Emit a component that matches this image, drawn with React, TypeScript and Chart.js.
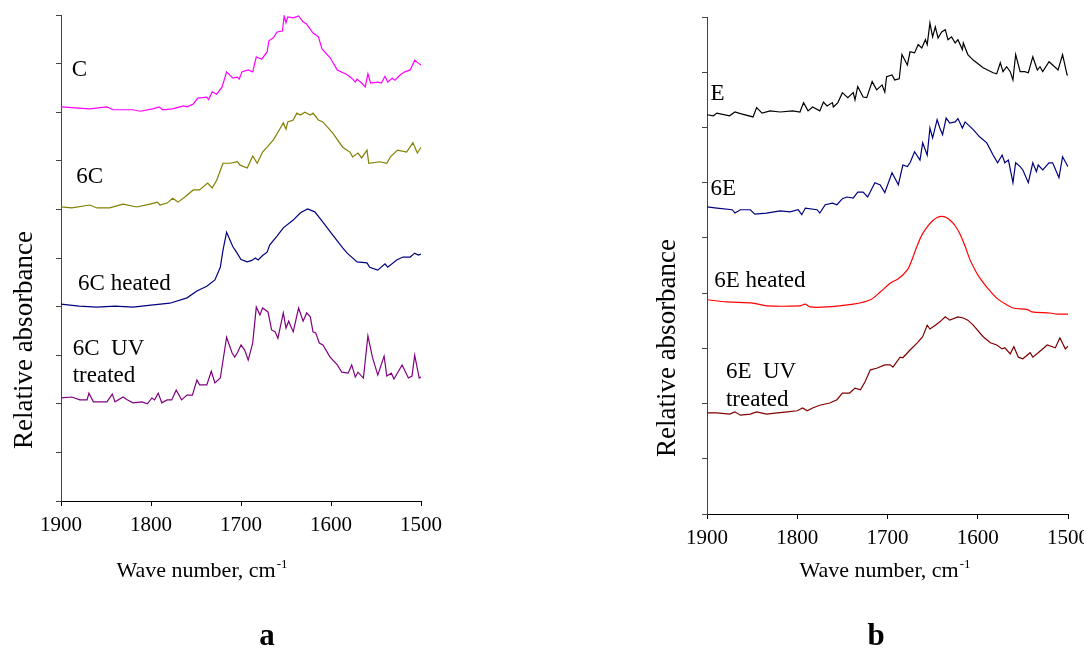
import { useEffect, useRef } from "react";
import { Chart, registerables } from "chart.js";

Chart.register(...registerables);

const SERIF = '"Liberation Serif", "Times New Roman", "DejaVu Serif", serif';

// x-axis tick values (wave number, cm^-1)
const waveTicks = [1900, 1800, 1700, 1600, 1500];

// Panel a: [wave number, relative absorbance (offset per trace)]
const traceC: [number, number][] = [
  [1900, 8.11], [1868, 8.07], [1849, 8.11], [1842, 8.05], [1820, 8.05], [1812, 8.02], [1798, 8.07],
  [1791, 8.11], [1787, 8.05], [1776, 8.07], [1764, 8.13], [1760, 8.11], [1753, 8.17], [1748, 8.29],
  [1738, 8.31], [1736, 8.26], [1732, 8.42], [1727, 8.37], [1721, 8.52], [1716, 8.83], [1709, 8.7],
  [1704, 8.72], [1702, 8.68], [1699, 8.83], [1692, 8.87], [1687, 8.83], [1683, 9.14], [1677, 9.09],
  [1671, 9.24], [1669, 9.47], [1664, 9.53], [1660, 9.65], [1654, 9.67], [1652, 9.98], [1650, 9.84],
  [1648, 9.96], [1642, 9.94], [1636, 9.98], [1631, 9.86], [1627, 9.81], [1620, 9.63], [1614, 9.55],
  [1610, 9.3], [1601, 9.12], [1593, 8.87], [1582, 8.77], [1577, 8.7], [1573, 8.62], [1571, 8.68],
  [1566, 8.6], [1562, 8.52], [1559, 8.79], [1556, 8.6], [1548, 8.62], [1544, 8.6], [1540, 8.74],
  [1537, 8.62], [1532, 8.7], [1529, 8.66], [1523, 8.77], [1518, 8.83], [1512, 8.87], [1507, 9.07],
  [1503, 9.01], [1500, 8.97],
];

const trace6C: [number, number][] = [
  [1900, 6.05], [1888, 6.03], [1868, 6.09], [1860, 6.03], [1846, 6.03], [1831, 6.11], [1816, 6.05],
  [1801, 6.11], [1793, 6.15], [1790, 6.09], [1782, 6.13], [1776, 6.23], [1770, 6.15], [1762, 6.26],
  [1753, 6.4], [1746, 6.4], [1737, 6.54], [1732, 6.44], [1727, 6.6], [1720, 6.95], [1712, 6.95],
  [1704, 6.98], [1701, 6.91], [1693, 6.85], [1687, 7.1], [1682, 6.95], [1676, 7.18], [1671, 7.28],
  [1664, 7.43], [1657, 7.65], [1653, 7.78], [1650, 7.65], [1648, 7.8], [1642, 7.84], [1638, 7.98],
  [1634, 7.94], [1629, 8.0], [1623, 7.94], [1620, 7.98], [1614, 7.84], [1609, 7.8], [1598, 7.57],
  [1587, 7.28], [1579, 7.18], [1576, 7.08], [1570, 7.16], [1566, 7.06], [1560, 7.22], [1558, 6.95],
  [1546, 6.98], [1538, 6.95], [1534, 7.08], [1526, 7.22], [1516, 7.18], [1509, 7.37], [1504, 7.16],
  [1500, 7.28],
];

const trace6CHeated: [number, number][] = [
  [1900, 4.05], [1880, 4.01], [1860, 3.99], [1840, 4.01], [1820, 3.99], [1800, 4.03], [1779, 4.07],
  [1760, 4.18], [1749, 4.32], [1738, 4.42], [1729, 4.55], [1723, 4.81], [1720, 5.16], [1716, 5.53],
  [1709, 5.23], [1705, 5.12], [1700, 4.97], [1693, 4.92], [1688, 4.95], [1684, 5.0], [1681, 4.96],
  [1676, 5.05], [1671, 5.12], [1668, 5.27], [1660, 5.45], [1653, 5.62], [1642, 5.78], [1634, 5.93],
  [1626, 6.01], [1618, 5.95], [1609, 5.74], [1598, 5.47], [1587, 5.21], [1582, 5.1], [1571, 4.92],
  [1560, 4.9], [1557, 4.81], [1548, 4.75], [1540, 4.88], [1537, 4.81], [1527, 4.96], [1520, 5.02],
  [1512, 5.02], [1507, 5.1], [1503, 5.06], [1500, 5.08],
];

const trace6CUV: [number, number][] = [
  [1900, 2.12], [1888, 2.14], [1879, 2.08], [1871, 2.08], [1869, 2.22], [1864, 2.04], [1849, 2.04],
  [1843, 2.2], [1840, 2.04], [1831, 2.14], [1826, 2.08], [1820, 2.02], [1810, 2.04], [1804, 2.0],
  [1799, 2.12], [1796, 2.08], [1792, 2.22], [1788, 2.02], [1782, 2.08], [1777, 2.08], [1772, 2.28],
  [1766, 2.08], [1760, 2.18], [1754, 2.18], [1749, 2.49], [1746, 2.39], [1738, 2.39], [1733, 2.67],
  [1729, 2.43], [1723, 2.53], [1716, 3.37], [1710, 3.05], [1707, 2.96], [1704, 3.05], [1700, 3.21],
  [1696, 3.11], [1692, 2.9], [1687, 3.25], [1683, 3.99], [1679, 3.83], [1676, 3.97], [1670, 3.89],
  [1666, 3.52], [1662, 3.48], [1659, 3.35], [1653, 3.87], [1650, 3.56], [1647, 3.7], [1642, 3.48],
  [1636, 3.97], [1631, 3.7], [1627, 3.87], [1623, 3.79], [1620, 3.48], [1617, 3.46], [1613, 3.25],
  [1609, 3.21], [1601, 2.96], [1593, 2.8], [1588, 2.65], [1581, 2.63], [1577, 2.8], [1573, 2.55],
  [1570, 2.65], [1564, 2.53], [1559, 3.4], [1554, 2.96], [1548, 2.59], [1541, 2.98], [1538, 2.57],
  [1533, 2.63], [1530, 2.51], [1521, 2.8], [1514, 2.53], [1510, 2.57], [1507, 3.0], [1502, 2.53],
  [1500, 2.55],
];

// Panel b
const traceE: [number, number][] = [
  [1900, 7.23], [1893, 7.21], [1889, 7.26], [1875, 7.21], [1869, 7.28], [1863, 7.25], [1849, 7.19],
  [1845, 7.36], [1839, 7.26], [1830, 7.3], [1819, 7.28], [1805, 7.3], [1797, 7.28], [1793, 7.45],
  [1788, 7.3], [1783, 7.37], [1775, 7.3], [1771, 7.46], [1767, 7.39], [1761, 7.45], [1760, 7.37],
  [1755, 7.45], [1750, 7.63], [1744, 7.54], [1738, 7.63], [1736, 7.5], [1733, 7.74], [1727, 7.55],
  [1723, 7.54], [1717, 7.83], [1712, 7.68], [1706, 7.77], [1703, 7.64], [1701, 7.92], [1695, 7.95],
  [1692, 7.86], [1687, 7.88], [1684, 8.32], [1678, 8.13], [1675, 8.37], [1670, 8.35], [1666, 8.5],
  [1662, 8.44], [1658, 8.59], [1656, 8.5], [1653, 8.89], [1650, 8.64], [1647, 8.82], [1644, 8.62],
  [1640, 8.73], [1636, 8.77], [1633, 8.59], [1629, 8.64], [1625, 8.53], [1622, 8.59], [1617, 8.41],
  [1616, 8.53], [1611, 8.32], [1605, 8.22], [1594, 8.08], [1583, 7.99], [1579, 7.97], [1575, 8.17],
  [1572, 8.01], [1568, 8.1], [1564, 8.01], [1561, 7.86], [1558, 8.32], [1553, 8.01], [1548, 8.01],
  [1544, 7.99], [1539, 8.28], [1534, 8.04], [1531, 8.1], [1528, 8.01], [1521, 8.19], [1517, 8.13],
  [1511, 8.04], [1506, 8.32], [1501, 7.95], [1500, 7.95],
];

const trace6E: [number, number][] = [
  [1900, 5.56], [1889, 5.54], [1872, 5.51], [1869, 5.45], [1863, 5.51], [1852, 5.51], [1847, 5.43],
  [1834, 5.45], [1819, 5.49], [1808, 5.47], [1799, 5.51], [1795, 5.42], [1791, 5.54], [1778, 5.51],
  [1775, 5.45], [1769, 5.6], [1761, 5.63], [1756, 5.6], [1750, 5.71], [1745, 5.74], [1738, 5.72],
  [1733, 5.83], [1727, 5.83], [1722, 5.74], [1714, 6.0], [1708, 5.96], [1703, 5.82], [1695, 6.18],
  [1688, 5.96], [1683, 6.32], [1678, 6.29], [1675, 6.36], [1670, 6.56], [1664, 6.41], [1661, 6.72],
  [1656, 6.5], [1653, 6.99], [1650, 6.81], [1645, 7.14], [1642, 6.99], [1639, 6.87], [1635, 7.17],
  [1631, 7.08], [1625, 7.1], [1622, 7.16], [1617, 6.99], [1614, 7.1], [1605, 6.96], [1598, 6.83],
  [1590, 6.72], [1583, 6.5], [1578, 6.36], [1573, 6.5], [1570, 6.36], [1566, 6.41], [1561, 6.0],
  [1558, 6.36], [1553, 6.29], [1550, 6.23], [1544, 6.0], [1539, 6.36], [1535, 6.2], [1533, 6.32],
  [1528, 6.23], [1521, 6.36], [1517, 6.36], [1510, 6.09], [1506, 6.47], [1500, 6.29],
];

const trace6EHeated: [number, number][] = [
  [1900, 3.88], [1878, 3.84], [1849, 3.82], [1834, 3.77], [1797, 3.77], [1791, 3.8], [1786, 3.75],
  [1767, 3.75], [1738, 3.8], [1719, 3.88], [1708, 4.02], [1697, 4.18], [1688, 4.26], [1678, 4.42],
  [1673, 4.6], [1668, 4.82], [1662, 5.05], [1656, 5.2], [1650, 5.31], [1645, 5.37], [1640, 5.39],
  [1635, 5.37], [1630, 5.31], [1625, 5.22], [1620, 5.08], [1614, 4.85], [1609, 4.62], [1603, 4.42],
  [1598, 4.28], [1590, 4.11], [1579, 3.91], [1568, 3.79], [1561, 3.73], [1545, 3.7], [1540, 3.66],
  [1520, 3.64], [1512, 3.62], [1500, 3.62],
];

const trace6EUV: [number, number][] = [
  [1900, 1.83], [1889, 1.83], [1875, 1.81], [1869, 1.85], [1863, 1.79], [1852, 1.81], [1845, 1.85],
  [1834, 1.81], [1822, 1.83], [1811, 1.85], [1800, 1.87], [1794, 1.92], [1789, 1.87], [1783, 1.92],
  [1775, 1.97], [1764, 2.01], [1756, 2.07], [1750, 2.19], [1742, 2.19], [1736, 2.28], [1730, 2.25],
  [1725, 2.39], [1719, 2.61], [1712, 2.64], [1703, 2.7], [1697, 2.7], [1694, 2.66], [1686, 2.84],
  [1683, 2.83], [1675, 2.97], [1667, 3.1], [1661, 3.21], [1656, 3.42], [1653, 3.35], [1647, 3.42],
  [1642, 3.48], [1636, 3.57], [1631, 3.51], [1622, 3.57], [1616, 3.55], [1611, 3.51], [1605, 3.42],
  [1594, 3.21], [1586, 3.1], [1579, 3.06], [1573, 2.99], [1570, 3.01], [1564, 2.9], [1560, 3.03],
  [1555, 2.84], [1550, 2.81], [1542, 2.92], [1539, 2.84], [1533, 2.92], [1523, 3.06], [1514, 3.01],
  [1509, 3.19], [1503, 2.99], [1500, 3.04],
];

type Trace = { points: [number, number][]; color: string; tension?: number };
type Note = { text: string; wave: number; value: number };
type PanelSpec = {
  left: number;
  width: number;
  height: number;
  area: { left: number; top: number; right: number; bottom: number };
  yMax: number;
  traces: Trace[];
  notes: Note[];
  yTitle: { x: number; y: number };
  xTitle: { x: number; y: number };
  letter: { text: string; x: number; y: number };
};

const panelA: PanelSpec = {
  left: 0,
  width: 540,
  height: 648,
  area: { left: 61, top: 15, right: 421, bottom: 501 },
  yMax: 10,
  traces: [
    { points: traceC, color: "#FF00FF" },
    { points: trace6C, color: "#808000" },
    { points: trace6CHeated, color: "#000080" },
    { points: trace6CUV, color: "#800080" },
  ],
  notes: [
    { text: "C", wave: 1888, value: 8.74 },
    { text: "6C", wave: 1883, value: 6.54 },
    { text: "6C heated", wave: 1881, value: 4.34 },
    { text: "6C  UV", wave: 1887, value: 3.0 },
    { text: "treated", wave: 1887, value: 2.45 },
  ],
  yTitle: { x: 32, y: 340 },
  xTitle: { x: 202, y: 577 },
  letter: { text: "a", x: 267, y: 645 },
};

const panelB: PanelSpec = {
  left: 540,
  width: 570,
  height: 648,
  area: { left: 167, top: 17, right: 528, bottom: 514 },
  yMax: 9,
  traces: [
    { points: traceE, color: "#000000" },
    { points: trace6E, color: "#000080" },
    { points: trace6EHeated, color: "#FF0000", tension: 0.3 },
    { points: trace6EUV, color: "#800000" },
  ],
  notes: [
    { text: "E", wave: 1896, value: 7.5 },
    { text: "6E", wave: 1896, value: 5.78 },
    { text: "6E heated", wave: 1892, value: 4.11 },
    { text: "6E  UV", wave: 1879, value: 2.46 },
    { text: "treated", wave: 1879, value: 1.96 },
  ],
  yTitle: { x: 135, y: 348 },
  xTitle: { x: 345, y: 577 },
  letter: { text: "b", x: 336, y: 645 },
};

function Panel({ spec }: { spec: PanelSpec }) {
  const ref = useRef<HTMLCanvasElement | null>(null);

  useEffect(() => {
    const canvas = ref.current;
    if (!canvas) return;
    const { area } = spec;

    const textPlugin = {
      id: "panelText",
      afterDraw(chart: any) {
        const ctx = chart.ctx as CanvasRenderingContext2D;
        const xs = chart.scales.x;
        const ys = chart.scales.y;
        ctx.save();
        ctx.fillStyle = "#000";
        ctx.textBaseline = "alphabetic";

        // trace names
        ctx.font = `23px ${SERIF}`;
        ctx.textAlign = "left";
        for (const n of spec.notes) {
          ctx.fillText(n.text, xs.getPixelForValue(n.wave), ys.getPixelForValue(n.value));
        }

        // y-axis title
        ctx.save();
        ctx.translate(spec.yTitle.x, spec.yTitle.y);
        ctx.rotate(-Math.PI / 2);
        ctx.textAlign = "center";
        ctx.font = `27px ${SERIF}`;
        ctx.fillText("Relative absorbance", 0, 0);
        ctx.restore();

        // x-axis title with superscript
        const main = "Wave number, cm";
        const sup = "-1";
        ctx.font = `22px ${SERIF}`;
        const mw = ctx.measureText(main).width;
        ctx.font = `13px ${SERIF}`;
        const sw = ctx.measureText(sup).width;
        const x0 = spec.xTitle.x - (mw + sw + 1) / 2;
        ctx.textAlign = "left";
        ctx.font = `22px ${SERIF}`;
        ctx.fillText(main, x0, spec.xTitle.y);
        ctx.font = `13px ${SERIF}`;
        ctx.fillText(sup, x0 + mw + 1, spec.xTitle.y - 9);

        // panel letter
        ctx.font = `bold 31px ${SERIF}`;
        ctx.textAlign = "center";
        ctx.fillText(spec.letter.text, spec.letter.x, spec.letter.y);
        ctx.restore();
      },
    };

    const chart = new Chart(canvas, {
      type: "line",
      data: {
        datasets: spec.traces.map((t) => ({
          data: t.points.map(([x, y]) => ({ x, y })),
          borderColor: t.color,
          backgroundColor: t.color,
          borderWidth: 1.2,
          pointRadius: 0,
          tension: t.tension ?? 0,
          fill: false,
        })),
      },
      options: {
        animation: false,
        responsive: false,
        maintainAspectRatio: false,
        devicePixelRatio: 1,
        parsing: false as any,
        layout: {
          padding: { left: 0, top: area.top, right: spec.width - area.right, bottom: 0 },
        },
        plugins: {
          legend: { display: false },
          tooltip: { enabled: false },
          title: { display: false },
        },
        scales: {
          x: {
            type: "linear",
            min: 1500,
            max: 1900,
            reverse: true,
            afterBuildTicks: (scale: any) => {
              scale.ticks = waveTicks.map((v) => ({ value: v }));
            },
            ticks: {
              callback: (v: any) => String(v),
              color: "#000",
              font: { family: SERIF, size: 21 },
              padding: 7,
              maxRotation: 0,
              autoSkip: false,
            },
            grid: {
              drawOnChartArea: false,
              drawTicks: true,
              tickLength: 5,
              color: "#000",
            },
            border: { color: "#000", width: 1 },
            afterFit: (scale: any) => {
              scale.height = spec.height - area.bottom;
            },
          },
          y: {
            type: "linear",
            min: 0,
            max: spec.yMax,
            ticks: { stepSize: 1, display: false },
            grid: {
              drawOnChartArea: false,
              drawTicks: true,
              tickLength: 5,
              color: "#444",
            },
            border: { color: "#444", width: 1 },
            afterFit: (scale: any) => {
              scale.width = area.left;
            },
          },
        },
      },
      plugins: [textPlugin],
    });

    return () => chart.destroy();
  }, [spec]);

  return (
    <canvas
      ref={ref}
      width={spec.width}
      height={spec.height}
      style={{
        position: "absolute",
        left: spec.left,
        top: 0,
        width: spec.width,
        height: spec.height,
      }}
    />
  );
}

export default function App() {
  return (
    <div
      style={{
        position: "fixed",
        left: 0,
        top: 0,
        width: 1084,
        height: 648,
        overflow: "hidden",
        background: "#fff",
      }}
    >
      <Panel spec={panelA} />
      <Panel spec={panelB} />
    </div>
  );
}
